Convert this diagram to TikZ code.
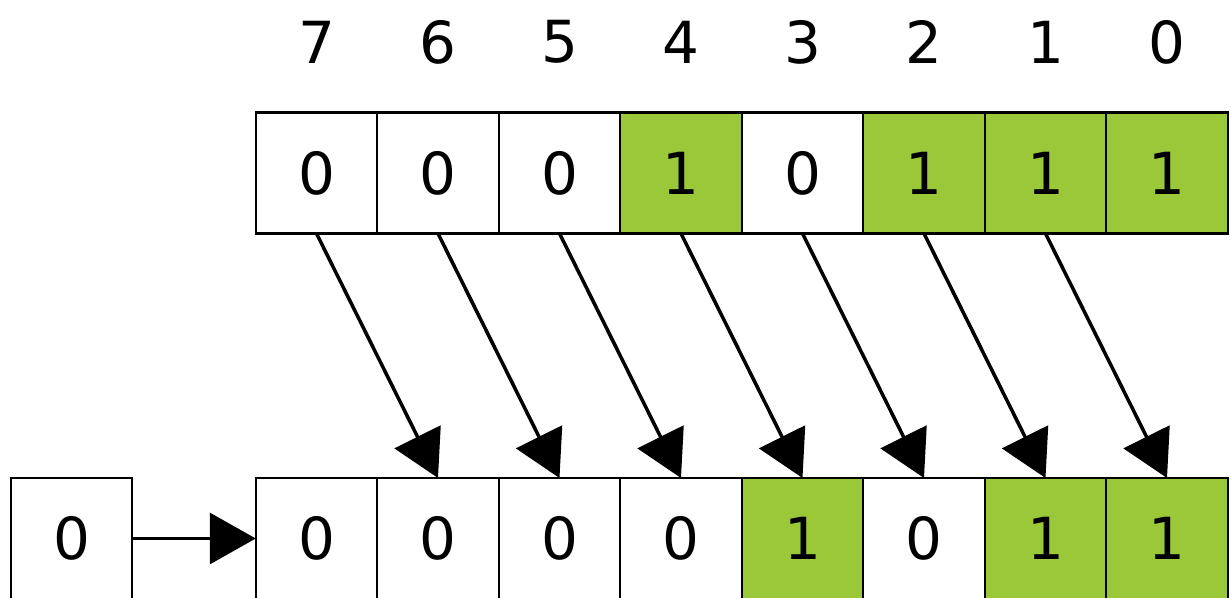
\documentclass[tikz,border=0pt]{standalone}
\usepackage{fontspec}
\setmainfont{DejaVu Sans}
\usepackage{tikz}
\usetikzlibrary{arrows.meta}
\definecolor{bitgreen}{RGB}{154,200,56}
\tikzset{
  bit/.style={shape=rectangle,draw,line width=1.3pt,minimum width=2.43cm,
    minimum height=2.42cm,inner sep=0pt,outer sep=0pt,font=\fontsize{33}{40}\selectfont},
  setbit/.style={bit,fill=bitgreen},
  idx/.style={font=\fontsize{33}{40}\selectfont}
}

\begin{document}
\begin{tikzpicture}[>={Triangle[length=0.92cm,width=1.02cm]},line width=2pt,node distance=2.43cm]
	\useasboundingbox (0,0) rectangle (24.62,11.96);
	% value before the shift
	\node (t7) [bit] at (6.33,8.50) {0};
	\node (t6) [bit] [right of = t7] {0};
	\node (t5) [bit] [right of = t6] {0};
	\node (t4) [setbit] [right of = t5] {1};
	\node (t3) [bit] [right of = t4] {0};
	\node (t2) [setbit] [right of = t3] {1};
	\node (t1) [setbit] [right of = t2] {1};
	\node (t0) [setbit] [right of = t1] {1};

	% bit numbers
	\node (n7) [idx] [above of = t7, node distance=2.62cm] {7};
	\node (n6) [idx] [above of = t6, node distance=2.62cm] {6};
	\node (n5) [idx] [above of = t5, node distance=2.62cm] {5};
	\node (n4) [idx] [above of = t4, node distance=2.62cm] {4};
	\node (n3) [idx] [above of = t3, node distance=2.62cm] {3};
	\node (n2) [idx] [above of = t2, node distance=2.62cm] {2};
	\node (n1) [idx] [above of = t1, node distance=2.62cm] {1};
	\node (n0) [idx] [above of = t0, node distance=2.62cm] {0};

	% value after the shift
	\node (b7) [bit] [below of = t7, node distance=7.31cm] {0};
	\node (b6) [bit] [right of = b7] {0};
	\node (b5) [bit] [right of = b6] {0};
	\node (b4) [bit] [right of = b5] {0};
	\node (b3) [setbit] [right of = b4] {1};
	\node (b2) [bit] [right of = b3] {0};
	\node (b1) [setbit] [right of = b2] {1};
	\node (b0) [setbit] [right of = b1] {1};

	% bit shifted in
	\node (fill) [bit] [left of = b7, node distance=4.9cm] {0};

	\path[->] (fill) edge (b7);
	\path[->] (t7.south) edge (b6.north);
	\path[->] (t6.south) edge (b5.north);
	\path[->] (t5.south) edge (b4.north);
	\path[->] (t4.south) edge (b3.north);
	\path[->] (t3.south) edge (b2.north);
	\path[->] (t2.south) edge (b1.north);
	\path[->] (t1.south) edge (b0.north);
\end{tikzpicture}
\end{document}
